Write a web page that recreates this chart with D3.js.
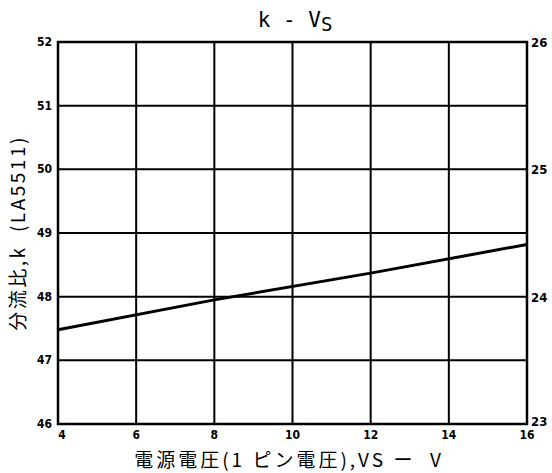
<!DOCTYPE html>
<html>
<head>
<meta charset="utf-8">
<script src="https://cdn.jsdelivr.net/npm/d3@7"></script>
<style>
  body { margin: 0; background: #fff; }
  text { fill: #000; }
</style>
</head>
<body>
<script>
// values
const vsValues = [4, 8, 12, 16];
const kValues = [47.48, 47.95, 48.37, 48.82];
const xTicks = [4, 6, 8, 10, 12, 14, 16];
const yTicks = [46, 47, 48, 49, 50, 51, 52];
const rightTicks = [23, 24, 25, 26];

const svg = d3.select("body")
  .append("svg")
  .attr("width", 552)
  .attr("height", 473);

const plotL = 58, plotR = 527, plotT = 42, plotB = 424;

const x = d3.scaleLinear().domain([4, 16]).range([plotL, plotR]);
const y = d3.scaleLinear().domain([46, 52]).range([plotB, plotT]);
const y2 = d3.scaleLinear().domain([23, 26]).range([plotB, plotT]);

// grid
svg.append("g")
  .selectAll("line")
  .data(xTicks)
  .enter().append("line")
  .attr("x1", d => x(d)).attr("x2", d => x(d))
  .attr("y1", plotT).attr("y2", plotB)
  .attr("stroke", "#000").attr("stroke-width", 2);

svg.append("g")
  .selectAll("line")
  .data(yTicks)
  .enter().append("line")
  .attr("x1", plotL).attr("x2", plotR)
  .attr("y1", d => y(d)).attr("y2", d => y(d))
  .attr("stroke", "#000").attr("stroke-width", 2);

svg.append("rect")
  .attr("x", plotL).attr("y", plotT)
  .attr("width", plotR - plotL).attr("height", plotB - plotT)
  .attr("fill", "none").attr("stroke", "#000").attr("stroke-width", 2.5);

// axes labels
const tickFont = "'DejaVu Sans Condensed', 'DejaVu Sans', sans-serif";

svg.append("g")
  .selectAll("text")
  .data(yTicks)
  .enter().append("text")
  .attr("x", plotL - 6)
  .attr("y", d => y(d) + 4)
  .attr("text-anchor", "end")
  .attr("font-family", tickFont)
  .attr("font-weight", "bold")
  .attr("font-size", 12)
  .text(d => d);

svg.append("g")
  .selectAll("text")
  .data(rightTicks)
  .enter().append("text")
  .attr("x", plotR + 4)
  .attr("y", d => d === 23 ? y2(d) + 2 : y2(d) + 5)
  .attr("font-family", tickFont)
  .attr("font-weight", "bold")
  .attr("font-size", 13)
  .text(d => d);

svg.append("g")
  .selectAll("text")
  .data(xTicks)
  .enter().append("text")
  .attr("x", d => d === 4 ? x(d) + 4 : x(d))
  .attr("y", plotB + 15)
  .attr("text-anchor", "middle")
  .attr("font-family", tickFont)
  .attr("font-weight", "bold")
  .attr("font-size", 12)
  .text(d => d);

// curve
const line = d3.line()
  .x((d, i) => x(vsValues[i]))
  .y(d => y(d));

svg.append("path")
  .datum(kValues)
  .attr("d", line)
  .attr("fill", "none")
  .attr("stroke", "#000")
  .attr("stroke-width", 3);

// title
const title = svg.append("text")
  .attr("x", 295)
  .attr("y", 27)
  .attr("text-anchor", "middle")
  .attr("font-family", "'DejaVu Sans Mono', monospace")
  .attr("font-size", 21)
  .attr("xml:space", "preserve");
title.append("tspan").text("k - V");
title.append("tspan").attr("dy", 4).attr("font-size", 19).text("S");

// x label
svg.append("text")
  .attr("x", 289)
  .attr("y", 467)
  .attr("text-anchor", "middle")
  .attr("font-family", "'Noto Sans CJK JP', sans-serif")
  .attr("font-size", 19)
  .attr("letter-spacing", 3)
  .attr("xml:space", "preserve")
  .text("電源電圧(1 ピン電圧),VS ー  V");

// y label
svg.append("text")
  .attr("transform", "translate(25,233) rotate(-90)")
  .attr("text-anchor", "middle")
  .attr("font-family", "'Noto Sans CJK JP', sans-serif")
  .attr("font-size", 19)
  .attr("letter-spacing", 2.5)
  .attr("xml:space", "preserve")
  .text("分流比,k  (LA5511)");
</script>
</body>
</html>
